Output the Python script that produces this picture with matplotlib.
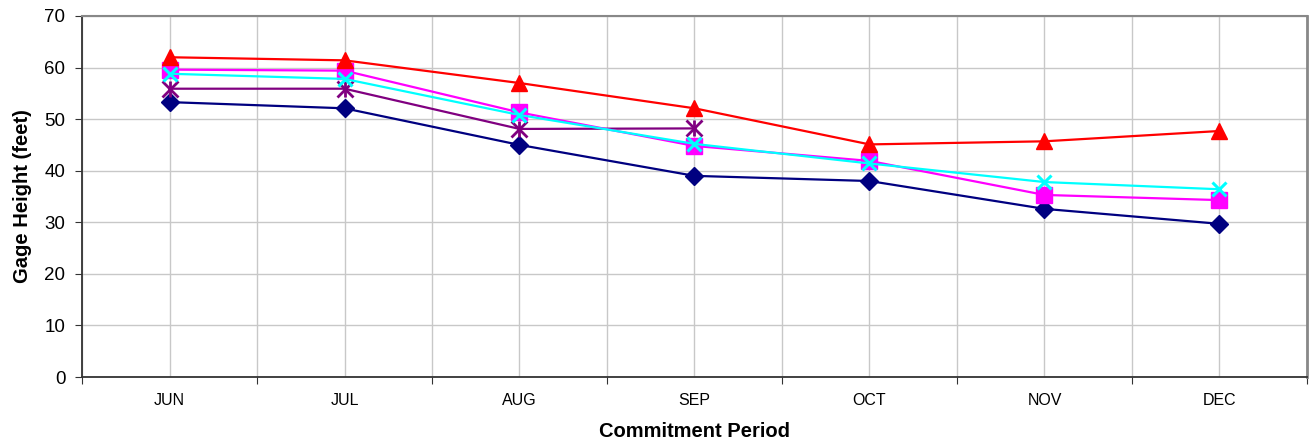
import matplotlib
matplotlib.use("Agg")
import matplotlib.pyplot as plt
import numpy as np

plt.rcParams['font.family'] = ['Liberation Sans', 'DejaVu Sans']

months = ["JUN", "JUL", "AUG", "SEP", "OCT", "NOV", "DEC"]
navy_vals = [53.3, 52.1, 45.0, 39.0, 38.0, 32.6, 29.7]
red_vals = [62.0, 61.4, 57.0, 52.1, 45.1, 45.7, 47.7]
magenta_vals = [59.6, 59.4, 51.3, 44.8, 41.9, 35.3, 34.3]
cyan_vals = [58.8, 57.8, 50.8, 45.2, 41.4, 37.8, 36.4]
purple_vals = [55.9, 55.9, 48.1, 48.2]

fig = plt.figure(figsize=(13.1, 4.44), dpi=100)
ax = fig.add_axes([0.0626, 0.1509, 0.9351, 0.8131])

x = np.arange(len(months)) + 0.5

ax.plot(x, navy_vals, color="#000080", marker="D", markersize=9, lw=1.6, zorder=3)
ax.plot(x[:len(purple_vals)], purple_vals, color="#800080", marker="x", markersize=11, mew=2, lw=1.6, zorder=3)
ax.plot(x[:len(purple_vals)], purple_vals, color="#800080", marker="|", markersize=12, mew=2, lw=0, zorder=3)
ax.plot(x, magenta_vals, color="#FF00FF", marker="s", markersize=11, lw=1.6, zorder=4)
ax.plot(x, cyan_vals, color="#00FFFF", marker="x", markersize=10, mew=2.2, lw=1.6, zorder=5)
ax.plot(x, red_vals, color="#FF0000", marker="^", markersize=11, lw=1.6, zorder=6)

ax.set_xlim(0, 7)
ax.set_ylim(0, 70)
ax.set_yticks(np.arange(0, 71, 10))
ax.set_xticks(np.arange(0, 8))
ax.set_xticklabels([])
ax.set_xticks(x, minor=True)
ax.set_xticklabels(months, minor=True)
ax.tick_params(axis='x', which='minor', length=0, labelsize=11.5, pad=11.5)
ax.tick_params(axis='x', which='major', length=5, direction='out', color='#333333')
ax.tick_params(axis='y', which='major', length=5, direction='out', labelsize=13.5, color='#333333', pad=7)

ax.grid(True, axis='x', which='both', color='#c8c8c8', lw=1)
ax.grid(True, axis='y', which='major', color='#c8c8c8', lw=1)
ax.set_axisbelow(True)

for s in ['left', 'bottom']:
    ax.spines[s].set_color('#333333')
    ax.spines[s].set_linewidth(1.3)
ax.spines['top'].set_color('#888888')
ax.spines['top'].set_linewidth(1.5)
ax.spines['right'].set_color('#888888')
ax.spines['right'].set_linewidth(2)

ax.set_ylabel("Gage Height (feet)", fontsize=14.5, fontweight='bold', labelpad=9)
ax.set_xlabel("Commitment Period", fontsize=14.5, fontweight='bold', labelpad=10)

fig.savefig("out.png", dpi=100)
